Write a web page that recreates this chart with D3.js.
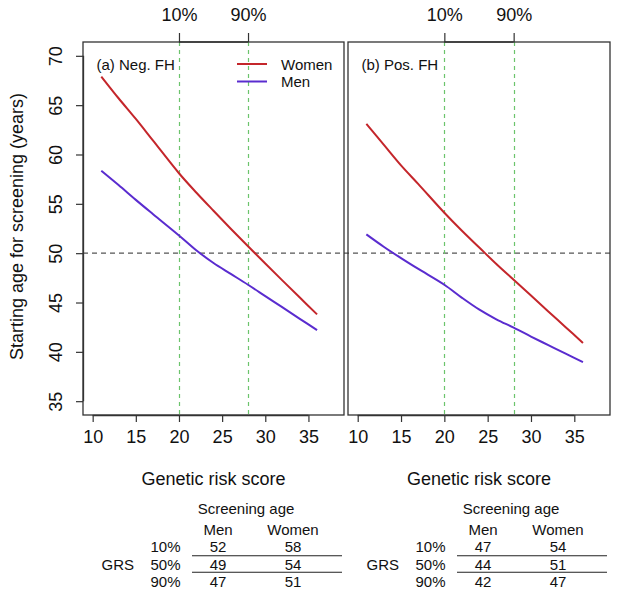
<!DOCTYPE html>
<html>
<head>
<meta charset="utf-8">
<script src="https://cdn.jsdelivr.net/npm/d3@7"></script>
<style>
  body { margin: 0; background: #fff; }
  svg { display: block; font-family: "Liberation Sans", Arial, Helvetica, sans-serif; }
</style>
</head>
<body>
<svg id="chart" width="621" height="599"></svg>
<script>
// ---- data ----
const grsScores = [11, 13, 15, 17, 20, 22, 24, 26, 28, 30, 32, 34, 36];
const womenNegFH = [67.9, 65.7, 63.6, 61.4, 58.1, 56.15, 54.3, 52.48, 50.7, 48.95, 47.22, 45.5, 43.8];
const menNegFH   = [58.35, 56.9, 55.4, 53.95, 51.8, 50.3, 49.0, 47.9, 46.8, 45.65, 44.5, 43.35, 42.2];
const womenPosFH = [63.1, 61.0, 58.9, 57.0, 54.1, 52.3, 50.6, 48.9, 47.3, 45.7, 44.1, 42.5, 40.9];
const menPosFH   = [51.9, 50.65, 49.5, 48.4, 46.8, 45.5, 44.3, 43.3, 42.45, 41.55, 40.68, 39.81, 38.95];

const xTicks = [10, 15, 20, 25, 30, 35];
const yTicks = [35, 40, 45, 50, 55, 60, 65, 70];
const percentileTicks = [20, 28];
const percentileLabels = ["10%", "90%"];
const referenceAge = 50;

const panelTitles = ["(a) Neg. FH", "(b) Pos. FH"];
const seriesNames = ["Women", "Men"];
const seriesColors = ["#c4262b", "#5a2ccf"];

const tableRowLabels = ["10%", "50%", "90%"];
const tableColLabels = ["Men", "Women"];
const tableNegFH = [[52, 58], [49, 54], [47, 51]];
const tablePosFH = [[47, 54], [44, 51], [42, 47]];

const panels = [
  { title: panelTitles[0], series: [womenNegFH, menNegFH], table: tableNegFH, left: 83, right: 344 },
  { title: panelTitles[1], series: [womenPosFH, menPosFH], table: tablePosFH, left: 348, right: 610 }
];

// ---- layout ----
const svg = d3.select("#chart");
const plotTop = 42, plotBottom = 415;
const y = d3.scaleLinear().domain([33.6, 71.4]).range([plotBottom, plotTop]);
const tickFont = 18, smallFont = 15;
const boxColor = "#333";
const fontFam = "Liberation Sans, Arial, sans-serif";

// horizontal reference line spanning both panels
svg.append("line")
  .attr("x1", panels[0].left).attr("x2", panels[1].right)
  .attr("y1", y(referenceAge)).attr("y2", y(referenceAge))
  .attr("stroke", "#555").attr("stroke-width", 1.2)
  .attr("stroke-dasharray", "5,4");

panels.forEach((p, i) => {
  const x = d3.scaleLinear().domain([8.88, 39.12]).range([p.left, p.right]);
  const g = svg.append("g");

  // green percentile lines
  percentileTicks.forEach(v => {
    const px = Math.round(x(v)) + 0.5;
    g.append("line")
      .attr("x1", px).attr("x2", px)
      .attr("y1", plotTop).attr("y2", plotBottom)
      .attr("stroke", "#6cc46c").attr("stroke-width", 1.2)
      .attr("stroke-dasharray", "4,4");
  });

  // curves
  const line = d3.line()
    .x((d, k) => x(grsScores[k]))
    .y(d => y(d))
    .curve(d3.curveCatmullRom.alpha(0.5));
  p.series.forEach((s, k) => {
    g.append("path")
      .datum(s)
      .attr("d", line)
      .attr("fill", "none")
      .attr("stroke", seriesColors[k])
      .attr("stroke-width", 2);
  });

  // box
  g.append("rect")
    .attr("x", p.left).attr("y", plotTop)
    .attr("width", p.right - p.left).attr("height", plotBottom - plotTop)
    .attr("fill", "none").attr("stroke", boxColor).attr("stroke-width", 1.3);

  // bottom axis
  const xAxis = d3.axisBottom(x).tickValues(xTicks).tickSize(7).tickPadding(8)
    .tickFormat(d3.format("d"));
  const ax = g.append("g").attr("transform", `translate(0,${plotBottom})`).call(xAxis);
  ax.select(".domain").attr("d", `M${x(xTicks[0])},0.5H${x(xTicks[xTicks.length - 1])}`)
    .attr("stroke", boxColor).attr("stroke-width", 1.3);
  ax.selectAll(".tick line").attr("stroke", boxColor).attr("stroke-width", 1.2);
  ax.selectAll(".tick text").attr("font-size", tickFont).attr("fill", "#111")
    .attr("font-family", fontFam);

  // top percentile axis
  const tAxis = d3.axisTop(x).tickValues(percentileTicks).tickSize(9).tickPadding(12)
    .tickFormat((d, k) => percentileLabels[k]);
  const at = g.append("g").attr("transform", `translate(0,${plotTop})`).call(tAxis);
  at.select(".domain").attr("d", `M${x(percentileTicks[0])},0H${x(percentileTicks[1])}`)
    .attr("stroke", boxColor).attr("stroke-width", 1.3);
  at.selectAll(".tick line").attr("stroke", boxColor).attr("stroke-width", 1.2);
  at.selectAll(".tick text").attr("font-size", tickFont).attr("fill", "#111")
    .attr("font-family", fontFam);

  // left axis only on first panel
  if (i === 0) {
    const yAxis = d3.axisLeft(y).tickValues(yTicks).tickSize(7).tickFormat(d3.format("d"));
    const ay = g.append("g").attr("transform", `translate(${p.left},0)`).call(yAxis);
    ay.select(".domain").attr("d", `M0.5,${y(yTicks[0])}V${y(yTicks[yTicks.length - 1])}`)
      .attr("stroke", boxColor).attr("stroke-width", 1.3);
    ay.selectAll(".tick line").attr("stroke", boxColor).attr("stroke-width", 1.2);
    ay.selectAll(".tick text")
      .attr("font-size", tickFont).attr("fill", "#111")
      .attr("font-family", fontFam)
      .attr("x", null).attr("dy", null)
      .attr("text-anchor", "middle")
      .attr("transform", `translate(-21,0) rotate(-90)`)
      .attr("y", 0);

    svg.append("text")
      .attr("transform", `translate(23,${(plotTop + plotBottom) / 2 - 2}) rotate(-90)`)
      .attr("text-anchor", "middle")
      .attr("font-size", tickFont).attr("fill", "#111")
      .text("Starting age for screening (years)");

    // legend
    seriesNames.forEach((n, k) => {
      const ly = 64 + k * 17.5;
      svg.append("line").attr("x1", 237).attr("x2", 267).attr("y1", ly).attr("y2", ly)
        .attr("stroke", seriesColors[k]).attr("stroke-width", 2);
      svg.append("text").attr("x", 281).attr("y", ly + 5.8)
        .attr("font-size", smallFont).attr("fill", "#111").text(n);
    });
  }

  // panel title
  g.append("text").attr("x", p.left + 13.5).attr("y", 69.8)
    .attr("font-size", smallFont).attr("fill", "#111").text(p.title);

  // x axis title
  const cx = (p.left + p.right) / 2;
  g.append("text").attr("x", cx).attr("y", 485)
    .attr("text-anchor", "middle").attr("font-size", tickFont).attr("fill", "#111")
    .text("Genetic risk score");

  // table
  const off = p.left - 83;
  const menX = 218 + off, womenX = 293 + off;
  g.append("text").attr("x", 246 + off).attr("y", 514)
    .attr("text-anchor", "middle").attr("font-size", smallFont).attr("fill", "#111")
    .text("Screening age");
  [menX, womenX].forEach((cxx, k) => {
    g.append("text").attr("x", cxx).attr("y", 535)
      .attr("text-anchor", "middle").attr("font-size", smallFont).attr("fill", "#111")
      .text(tableColLabels[k]);
  });
  const rowY = [552, 569.5, 586.5];
  tableRowLabels.forEach((lab, r) => {
    g.append("text").attr("x", 180.5 + off).attr("y", rowY[r])
      .attr("text-anchor", "end").attr("font-size", smallFont).attr("fill", "#111")
      .text(lab);
    p.table[r].forEach((v, k) => {
      g.append("text").attr("x", [menX, womenX][k]).attr("y", rowY[r])
        .attr("text-anchor", "middle").attr("font-size", smallFont).attr("fill", "#111")
        .text(v);
    });
  });
  g.append("text").attr("x", 101.5 + off).attr("y", 569.5)
    .attr("font-size", smallFont).attr("fill", "#111").text("GRS");
  [555.7, 572.3].forEach(ly => {
    g.append("line").attr("x1", 192 + off).attr("x2", 342 + off)
      .attr("y1", ly).attr("y2", ly).attr("stroke", "#222").attr("stroke-width", 1.1);
  });
});
</script>
</body>
</html>
